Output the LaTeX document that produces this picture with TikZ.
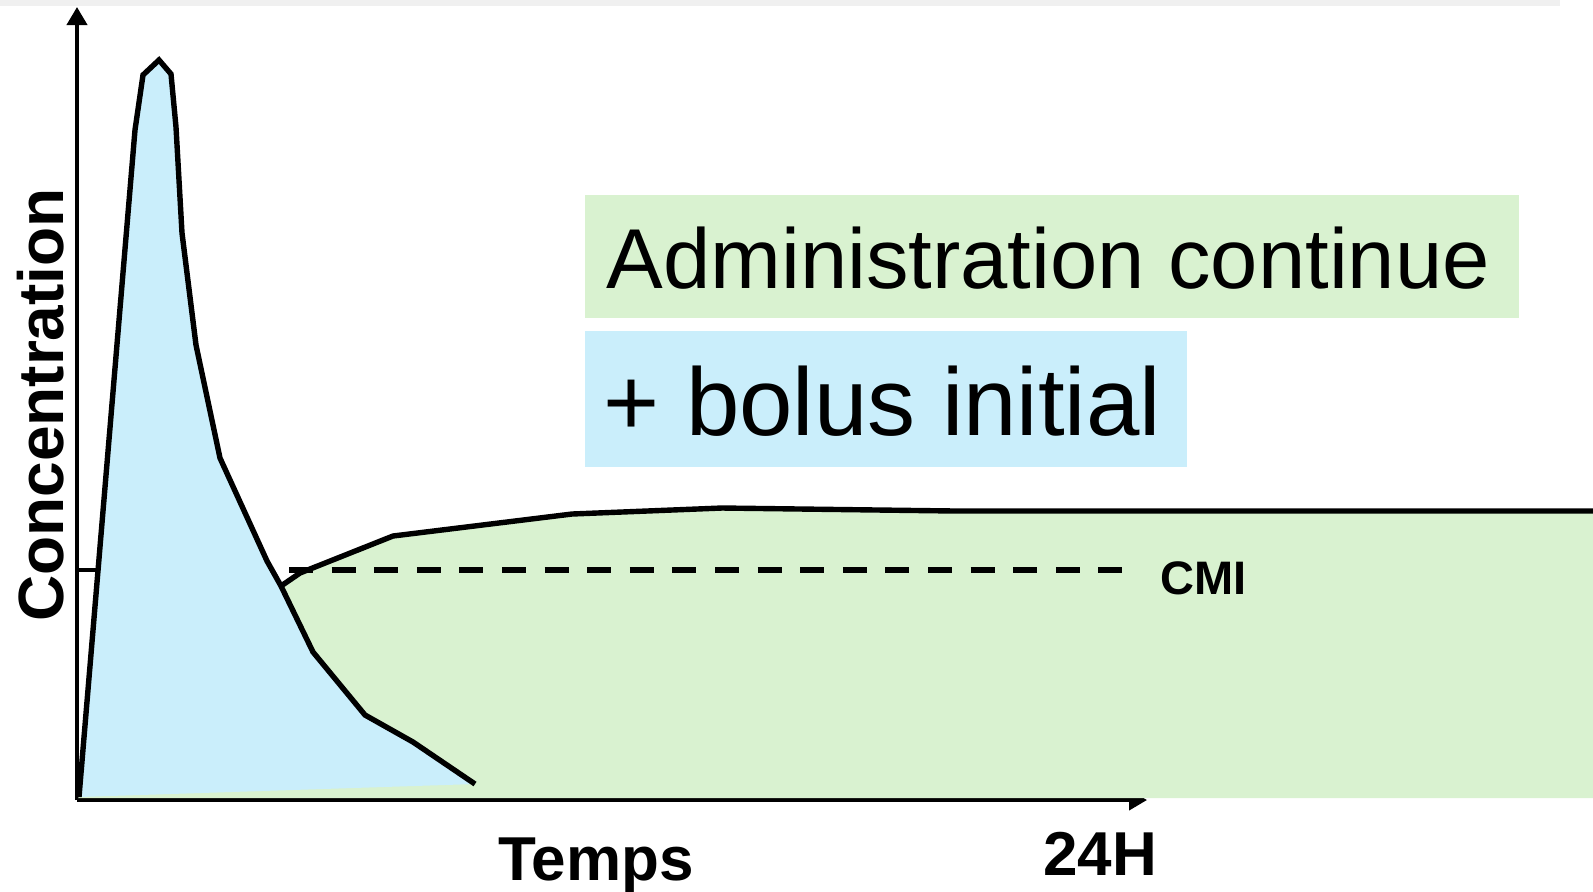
\documentclass[tikz,border=0pt]{standalone}
\usepackage{fontspec}
\setmainfont{Liberation Sans}
\usetikzlibrary{arrows.meta}
\definecolor{bolusblue}{HTML}{CAEEFB}
\definecolor{contgreen}{HTML}{D9F2D0}
\definecolor{topgray}{HTML}{F0F0F0}
\begin{document}
\begin{tikzpicture}[x=0.5pt,y=-0.5pt,
  axis/.style={line width=2pt,-{Triangle[width=10pt,length=9pt]}},
  curve/.style={line width=2.7pt,line join=miter},
  cmidash/.style={line width=3pt,dash pattern=on 12pt off 9.3pt},
  boxtext/.style={anchor=base west,inner sep=0pt,text=black},
  axlabel/.style={font=\bfseries\fontsize{31}{31}\selectfont,inner sep=0pt}]
\useasboundingbox (0,0) rectangle (1593,891);
\fill[topgray] (0,0) rectangle (1560,6);

\coordinate (O) at (77,800);
\coordinate (ytop) at (77,7);
\coordinate (xend) at (1147,800);
\draw[axis] (O) -- (ytop);
\draw[axis] (O) -- (xend);

% continuous administration
\fill[contgreen] (281,586) -- (300,573) -- (393,536) -- (572,514) -- (722,508) -- (955,511) -- (1593,511) -- (1593,798) -- (78,798) -- cycle;
\draw[curve] (281,586) -- (300,573) -- (393,536) -- (572,514) -- (722,508) -- (955,511) -- (1593,511);

% bolus
\fill[bolusblue] (79,797) -- (135,130) -- (143,75) -- (159,60) -- (171,74) -- (176,127) -- (182,233) -- (196,345) -- (220,458) -- (267,561) -- (281,586) -- (313,652) -- (365,715) -- (413,742) -- (475,784) -- cycle;
\draw[curve] (79,797) -- (135,130) -- (143,75) -- (159,60) -- (171,74) -- (176,127) -- (182,233) -- (196,345) -- (220,458) -- (267,561) -- (281,586) -- (313,652) -- (365,715) -- (413,742) -- (475,784);

% CMI
\draw[line width=2pt] (77,570) -- (98,570);
\draw[cmidash] (289,570) -- (1123,570);
\node[anchor=base west,inner sep=0pt,font=\bfseries\fontsize{23.5}{23.5}\selectfont] (cmi) at (1160,594) {CMI};

% legend boxes
\fill[contgreen] (585,195) rectangle (1519,318);
\fill[bolusblue] (585,331) rectangle (1187,467);
\node[boxtext,font=\fontsize{42.5}{42.5}\selectfont] (admin) at (606,288) {Administration continue};
\node[boxtext,font=\fontsize{48}{48}\selectfont] (bolus) at (603,435) {+ bolus initial};

% axis labels
\node[axlabel,anchor=base] (temps) at (596,880) {Temps};
\node[axlabel,anchor=base] (h24) at (1100,875) {24H};
\node[axlabel,anchor=base,rotate=90,font=\bfseries\fontsize{32}{32}\selectfont] (conc) at (63,405) {Concentration};
\end{tikzpicture}
\end{document}
